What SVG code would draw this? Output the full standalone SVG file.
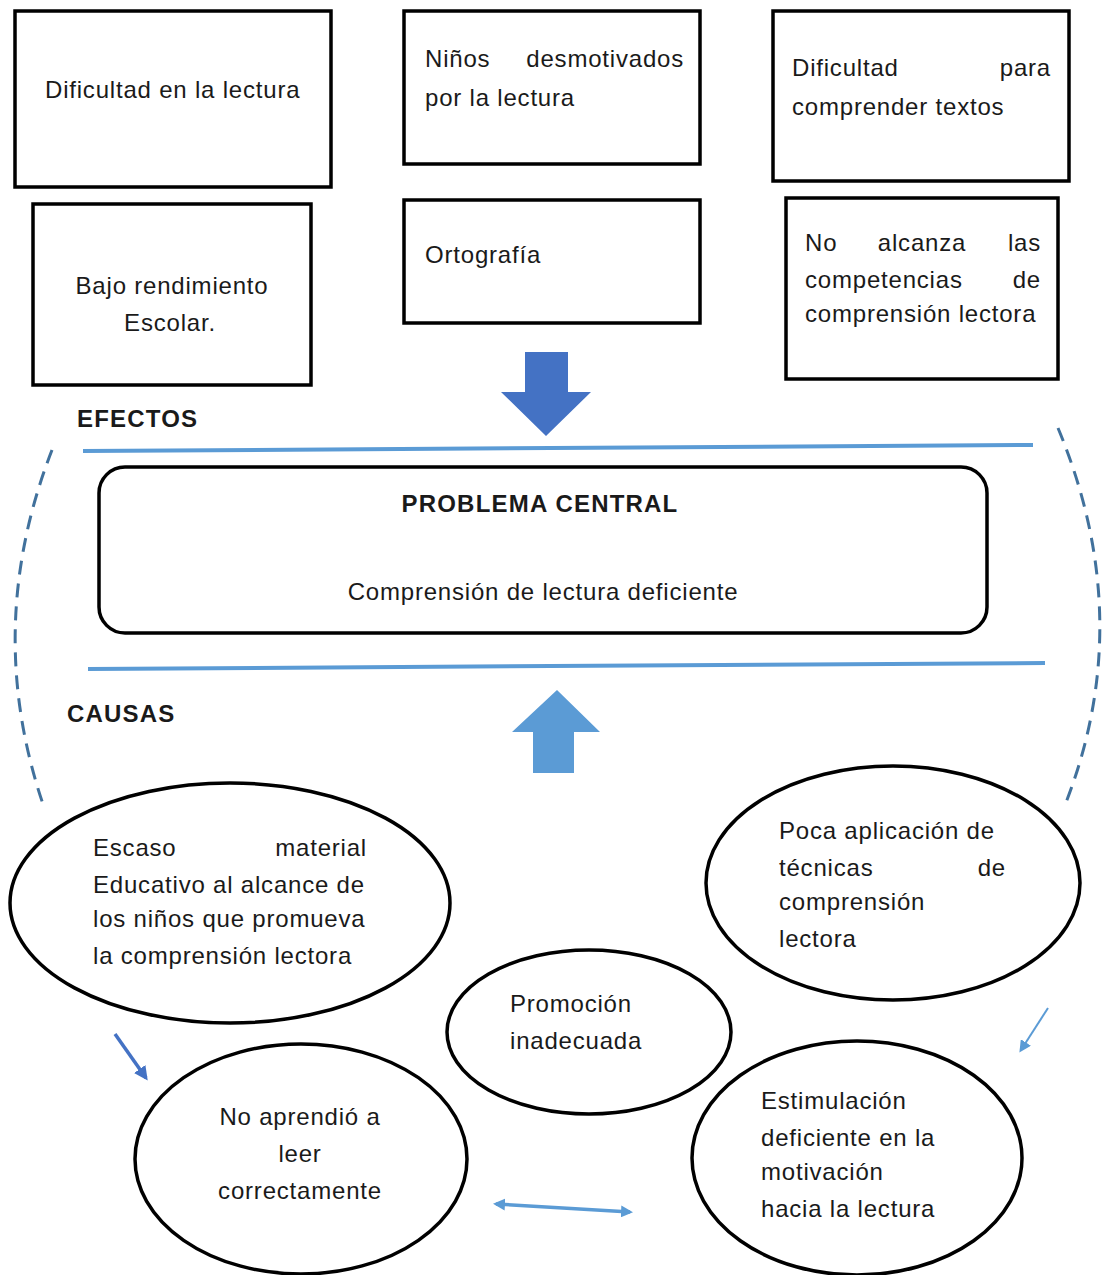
<svg xmlns="http://www.w3.org/2000/svg" width="1102" height="1275" viewBox="0 0 1102 1275">
<defs>
<style>
.box{fill:#fff;stroke:#000;stroke-width:3.5}
.ell{fill:#fff;stroke:#000;stroke-width:3.5}
text{font-family:"Liberation Sans",Arial,sans-serif;font-size:24px;letter-spacing:0.8px;fill:#1a1a1a}
.b{font-weight:bold;letter-spacing:1.2px}
.m{text-anchor:middle}
.e{text-anchor:end}
.sep{stroke:#5B9BD5;stroke-width:4;fill:none}
.dash{stroke:#41719C;stroke-width:3;fill:none;stroke-dasharray:14 9}
</style>
<marker id="ah2" markerWidth="12" markerHeight="12" refX="9" refY="6" orient="auto" markerUnits="userSpaceOnUse"><path d="M0,0 L12,6 L0,12 z" fill="#5B9BD5"/></marker>
<marker id="ah2s" markerWidth="12" markerHeight="12" refX="3" refY="6" orient="auto" markerUnits="userSpaceOnUse"><path d="M12,0 L0,6 L12,12 z" fill="#5B9BD5"/></marker>
<marker id="ah3" markerWidth="14" markerHeight="14" refX="11" refY="7" orient="auto" markerUnits="userSpaceOnUse"><path d="M0,0 L14,7 L0,14 z" fill="#4472C4"/></marker>
</defs>
<rect width="1102" height="1275" fill="#fff"/>

<g id="efecto1"><rect class="box" x="15" y="11" width="316" height="176"/><text x="45" y="98">Dificultad en la lectura</text></g>
<g id="efecto2"><rect class="box" x="404" y="11" width="296" height="153"/><text x="425" y="67">Niños</text><text class="e" x="684" y="67">desmotivados</text><text x="425" y="106">por la lectura</text></g>
<g id="efecto3"><rect class="box" x="773" y="11" width="296" height="170"/><text x="792" y="76">Dificultad</text><text class="e" x="1051" y="76">para</text><text x="792" y="115">comprender textos</text></g>
<g id="efecto4"><rect class="box" x="33" y="204" width="278" height="181"/><text class="m" x="172" y="294">Bajo rendimiento</text><text class="m" x="170" y="331">Escolar.</text></g>
<g id="efecto5"><rect class="box" x="404" y="200" width="296" height="123"/><text x="425" y="263">Ortografía</text></g>
<g id="efecto6"><rect class="box" x="786" y="198" width="272" height="181"/><text x="805" y="251">No</text><text class="m" x="922" y="251">alcanza</text><text class="e" x="1041" y="251">las</text><text x="805" y="288">competencias</text><text class="e" x="1041" y="288">de</text><text x="805" y="322">comprensión lectora</text></g>

<g id="labels">
<text class="b" x="77" y="427">EFECTOS</text>
<text class="b" x="67" y="722">CAUSAS</text>
</g>

<g id="problema"><rect class="box" x="99" y="467" width="888" height="166" rx="26"/><text class="b m" x="540" y="512">PROBLEMA CENTRAL</text><text class="m" x="543" y="600">Comprensión de lectura deficiente</text></g>

<g id="causaA"><ellipse class="ell" cx="230" cy="903" rx="220" ry="120"/><text x="93" y="856">Escaso</text><text class="e" x="367" y="856">material</text><text x="93" y="893">Educativo al alcance de</text><text x="93" y="927">los niños que promueva</text><text x="93" y="964">la comprensión lectora</text></g>
<g id="causaB"><ellipse class="ell" cx="893" cy="883" rx="187" ry="117"/><text x="779" y="839">Poca aplicación de</text><text x="779" y="876">técnicas</text><text class="e" x="1006" y="876">de</text><text x="779" y="910">comprensión</text><text x="779" y="947">lectora</text></g>
<g id="causaC"><ellipse class="ell" cx="589" cy="1032" rx="142" ry="82"/><text x="510" y="1012">Promoción</text><text x="510" y="1049">inadecuada</text></g>
<g id="causaD"><ellipse class="ell" cx="301" cy="1159" rx="166" ry="115"/><text class="m" x="300" y="1125">No aprendió a</text><text class="m" x="300" y="1162">leer</text><text class="m" x="300" y="1199">correctamente</text></g>
<g id="causaE"><ellipse class="ell" cx="857" cy="1158" rx="165" ry="117"/><text x="761" y="1109">Estimulación</text><text x="761" y="1146">deficiente en la</text><text x="761" y="1180">motivación</text><text x="761" y="1217">hacia la lectura</text></g>

<g id="connectors">
<path d="M525,352 H568 V392 H591 L546,436 L501,392 H525 Z" fill="#4472C4"/>
<path d="M533,773 V732 H512 L557,690 L600,732 H574 V773 Z" fill="#5B9BD5"/>
<line class="sep" x1="83" y1="451" x2="1033" y2="445"/>
<line class="sep" x1="88" y1="669" x2="1045" y2="663"/>
<path class="dash" d="M52,450 Q-18,630 45,810"/>
<path class="dash" d="M1058,428 Q1138,620 1065,805"/>
<line x1="115" y1="1034" x2="146" y2="1078" stroke="#4472C4" stroke-width="3.5" marker-end="url(#ah3)"/>
<line x1="1048" y1="1008" x2="1021" y2="1050" stroke="#5B9BD5" stroke-width="2" marker-end="url(#ah2)"/>
<line x1="496" y1="1204" x2="630" y2="1212" stroke="#5B9BD5" stroke-width="3.5" marker-start="url(#ah2s)" marker-end="url(#ah2)"/>
</g>
</svg>
